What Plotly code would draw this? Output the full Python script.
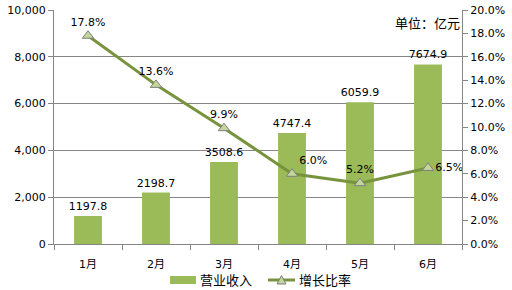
import plotly.graph_objects as go

months = ["1月", "2月", "3月", "4月", "5月", "6月"]
revenue = [1197.8, 2198.7, 3508.6, 4747.4, 6059.9, 7674.9]
growth = [17.8, 13.6, 9.9, 6.0, 5.2, 6.5]
growth_pos = ["top center", "top center", "top center", "top right", "top center", "middle right"]
series_names = ["营业收入", "增长比率"]
unit_label = "单位：亿元"

FONT = "DejaVu Sans, Noto Sans CJK SC, sans-serif"
BAR_C = "#9BBB59"
LINE_C = "#77933C"
MK_FILL = "#C3D69B"
MK_EDGE = "#7F7F7F"
GRID = "#868686"

fig = go.Figure()
fig.add_trace(go.Bar(
    x=months, y=revenue, name=series_names[0],
    marker=dict(color=BAR_C, line=dict(width=0)),
    text=[f"{v:.1f}" for v in revenue], textposition="outside",
    constraintext="none",
    textfont=dict(size=11, color="#000000"), cliponaxis=False,
    width=0.41,
))
fig.add_trace(go.Scatter(
    x=months, y=growth, name=series_names[1], yaxis="y2",
    mode="lines+markers+text",
    line=dict(color=LINE_C, width=3),
    marker=dict(symbol="triangle-up", size=10, color=MK_FILL,
                line=dict(color=MK_EDGE, width=1)),
    text=[f"{v:.1f}%" for v in growth], textposition=growth_pos,
    textfont=dict(size=11, color="#000000"), cliponaxis=False,
))

# custom legend (plot area: x 54..462 px, y 10..244 px)
def px(x):
    return (x - 54) / 408.0

def py(y):
    return (244 - y) / 234.0

shapes = [
    dict(type="rect", xref="paper", yref="paper",
         x0=px(170), x1=px(196), y0=py(284), y1=py(276),
         fillcolor=BAR_C, line=dict(width=0)),
    dict(type="line", xref="paper", yref="paper",
         x0=px(268), x1=px(295), y0=py(280), y1=py(280),
         line=dict(color=LINE_C, width=3)),
    dict(type="path", xref="paper", yref="paper",
         path=f"M {px(277)} {py(284)} L {px(286)} {py(284)} L {px(281.5)} {py(275.5)} Z",
         fillcolor=MK_FILL, line=dict(color=MK_EDGE, width=1)),
]

annotations = [
    dict(text=unit_label, xref="paper", yref="paper", x=1.0, y=py(23),
         xanchor="right", yanchor="middle", showarrow=False, font=dict(size=13)),
    dict(text=series_names[0], xref="paper", yref="paper", x=px(198), y=py(280),
         xanchor="left", yanchor="middle", showarrow=False, font=dict(size=13)),
    dict(text=series_names[1], xref="paper", yref="paper", x=px(297), y=py(280),
         xanchor="left", yanchor="middle", showarrow=False, font=dict(size=13)),
]

fig.update_layout(
    width=512, height=290,
    margin=dict(l=54, r=50, t=10, b=46, autoexpand=False),
    paper_bgcolor="white", plot_bgcolor="white",
    font=dict(family=FONT, size=11, color="#000000"),
    showlegend=False,
    xaxis=dict(type="category", showline=True, linecolor=GRID, linewidth=1,
               ticks="outside", tickson="boundaries", ticklen=5, tickcolor=GRID,
               showgrid=False, tickfont=dict(size=11), ticklabelstandoff=10),
    yaxis=dict(range=[0, 10000], dtick=2000, tickformat=",d", showgrid=True,
               gridcolor=GRID, gridwidth=1, showline=True, linecolor=GRID,
               ticks="outside", ticklen=5, tickcolor=GRID, zeroline=False,
               tickfont=dict(size=11)),
    yaxis2=dict(range=[0, 20], dtick=2, overlaying="y", side="right",
                ticksuffix="%", tickformat=".1f", showgrid=False, showline=True,
                linecolor=GRID, ticks="outside", ticklen=5, tickcolor=GRID,
                zeroline=False, tickfont=dict(size=11)),
    shapes=shapes,
    annotations=annotations,
)

fig.write_html("out.html")
